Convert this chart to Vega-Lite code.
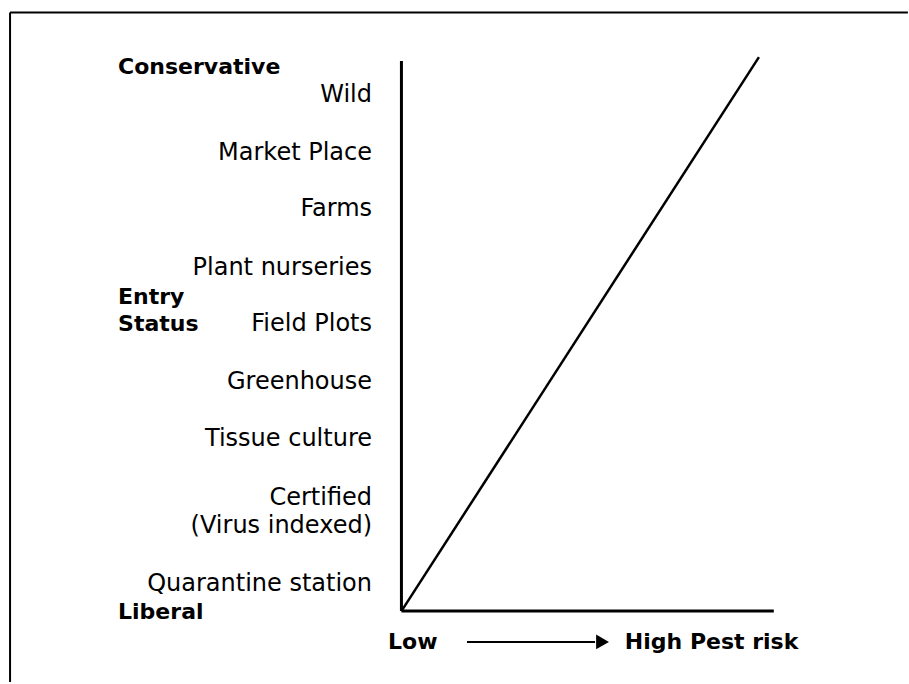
{
  "$schema": "https://vega.github.io/schema/vega-lite/v6.json",
  "width": 909,
  "height": 684,
  "padding": 0,
  "autosize": {"type": "fit", "contains": "padding"},
  "background": "white",
  "config": {"view": {"stroke": null}},
  "datasets": {
    "frame": [
      {"x": -105.1, "y": 108.8, "x2": -105.1, "y2": -12.9},
      {"x": -105.1, "y": 108.8, "x2": 136.0, "y2": 108.8}
    ],
    "axes": [
      {"x": 0, "y": 0, "x2": 0, "y2": 100},
      {"x": 0, "y": 0, "x2": 100, "y2": 0}
    ],
    "risk": [
      {"x": 0, "y": 0, "x2": 96, "y2": 100.7}
    ],
    "arrow": [
      {"x": 17.6, "y": -5.6, "x2": 52.0, "y2": -5.6}
    ],
    "head": [
      {"x": 54.0, "y": -5.6}
    ],
    "levels": [
      {"label": "Wild", "x": -7.9, "y": 93.8},
      {"label": "Market Place", "x": -7.9, "y": 83.3},
      {"label": "Farms", "x": -7.9, "y": 73.0},
      {"label": "Plant nurseries", "x": -7.9, "y": 62.4},
      {"label": "Field Plots", "x": -7.9, "y": 52.1},
      {"label": "Greenhouse", "x": -7.9, "y": 41.6},
      {"label": "Tissue culture", "x": -7.9, "y": 31.2},
      {"label": "Certified", "x": -7.9, "y": 20.5},
      {"label": "(Virus indexed)", "x": -7.9, "y": 15.4},
      {"label": "Quarantine station", "x": -7.9, "y": 4.9}
    ],
    "titles": [
      {"label": "Conservative", "x": -76.1, "y": 98.9},
      {"label": "Entry", "x": -76.1, "y": 57.0},
      {"label": "Status", "x": -76.1, "y": 52.1},
      {"label": "Liberal", "x": -76.1, "y": -0.2},
      {"label": "Low", "x": -3.6, "y": -5.6},
      {"label": "High Pest risk", "x": 60.0, "y": -5.6}
    ]
  },
  "layer": [
    {
      "data": {"name": "frame"},
      "mark": {"type": "rule", "color": "black", "strokeWidth": 2},
      "encoding": {
        "x": {"field": "x", "type": "quantitative", "scale": {"domain": [-107.8, 136.3], "nice": false, "zero": false}, "axis": null},
        "y": {"field": "y", "type": "quantitative", "scale": {"domain": [-13.07, 111.07], "nice": false, "zero": false}, "axis": null},
        "x2": {"field": "x2"},
        "y2": {"field": "y2"}
      }
    },
    {
      "data": {"name": "axes"},
      "mark": {"type": "rule", "color": "black", "strokeWidth": 3},
      "encoding": {
        "x": {"field": "x", "type": "quantitative"},
        "y": {"field": "y", "type": "quantitative"},
        "x2": {"field": "x2"},
        "y2": {"field": "y2"}
      }
    },
    {
      "data": {"name": "risk"},
      "mark": {"type": "rule", "color": "black", "strokeWidth": 2.5},
      "encoding": {
        "x": {"field": "x", "type": "quantitative"},
        "y": {"field": "y", "type": "quantitative"},
        "x2": {"field": "x2"},
        "y2": {"field": "y2"}
      }
    },
    {
      "data": {"name": "arrow"},
      "mark": {"type": "rule", "color": "black", "strokeWidth": 2},
      "encoding": {
        "x": {"field": "x", "type": "quantitative"},
        "y": {"field": "y", "type": "quantitative"},
        "x2": {"field": "x2"},
        "y2": {"field": "y2"}
      }
    },
    {
      "data": {"name": "head"},
      "mark": {"type": "point", "shape": "triangle-right", "filled": true, "color": "black", "size": 220, "opacity": 1},
      "encoding": {
        "x": {"field": "x", "type": "quantitative"},
        "y": {"field": "y", "type": "quantitative"}
      }
    },
    {
      "data": {"name": "levels"},
      "mark": {"type": "text", "align": "right", "baseline": "middle", "font": "DejaVu Sans", "fontSize": 24, "color": "black"},
      "encoding": {
        "x": {"field": "x", "type": "quantitative"},
        "y": {"field": "y", "type": "quantitative"},
        "text": {"field": "label"}
      }
    },
    {
      "data": {"name": "titles"},
      "mark": {"type": "text", "align": "left", "baseline": "middle", "font": "DejaVu Sans", "fontSize": 22, "fontWeight": "bold", "color": "black"},
      "encoding": {
        "x": {"field": "x", "type": "quantitative"},
        "y": {"field": "y", "type": "quantitative"},
        "text": {"field": "label"}
      }
    }
  ]
}
